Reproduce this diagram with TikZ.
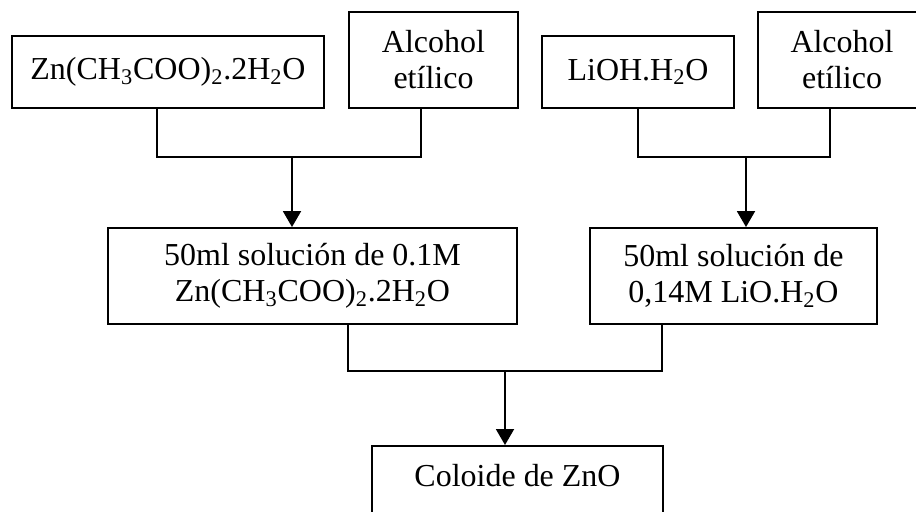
\documentclass[tikz,border=0pt]{standalone}
\usepackage{fontspec}
\setmainfont{Liberation Serif}
\usetikzlibrary{arrows.meta}

\begin{document}
\begin{tikzpicture}[x=0.02cm, y=-0.02cm,
    zoBox/.style={draw, line width=1.1pt, align=center, font=\fontsize{18.2pt}{20.5pt}\selectfont},
    zoLine/.style={line width=1.1pt},
    zoArrow/.style={-{Triangle[width=3.6mm,length=3.2mm]}, line width=1.1pt}]
    \useasboundingbox (0,0) rectangle (916,511);

    \node[zoBox, minimum width=6.24cm, minimum height=1.44cm] (zn) at (168,72) {Zn(CH\textsubscript{3}COO)\textsubscript{2}.2H\textsubscript{2}O};
    \node[zoBox, minimum width=3.38cm, minimum height=1.92cm] (alc1) at (433.5,60) {Alcohol\\etílico};
    \node[zoBox, minimum width=3.84cm, minimum height=1.44cm] (lioh) at (638,72) {LiOH.H\textsubscript{2}O};
    \node[zoBox, minimum width=3.36cm, minimum height=1.92cm] (alc2) at (842,60) {Alcohol\\etílico};
    \node[zoBox, minimum width=8.18cm, minimum height=1.92cm] (sol1) at (312.5,276) {50ml solución de 0.1M\\Zn(CH\textsubscript{3}COO)\textsubscript{2}.2H\textsubscript{2}O};
    \node[zoBox, minimum width=5.74cm, minimum height=1.92cm] (sol2) at (733.5,276) {50ml solución de\\0,14M LiO.H\textsubscript{2}O};
    \node[zoBox, minimum width=5.82cm, minimum height=1.6cm, text depth=0.44cm, anchor=north] (col) at (517.5,445) {Coloide de ZnO};

    \coordinate (j1) at (292,157);
    \coordinate (j2) at (746,157);
    \coordinate (j3) at (505,371);

    \draw[zoLine] ([xshift=-0.22cm]zn.south) |- (j1) -| ([xshift=-0.25cm]alc1.south);
    \draw[zoArrow] (j1) -- (sol1.north -| j1);
    \draw[zoLine] (lioh.south) |- (j2) -| ([xshift=-0.24cm]alc2.south);
    \draw[zoArrow] (j2) -- (sol2.north -| j2);
    \draw[zoLine] ([xshift=0.71cm]sol1.south) |- (j3) -| ([xshift=-1.43cm]sol2.south);
    \draw[zoArrow] (j3) -- (col.north -| j3);
\end{tikzpicture}
\end{document}
